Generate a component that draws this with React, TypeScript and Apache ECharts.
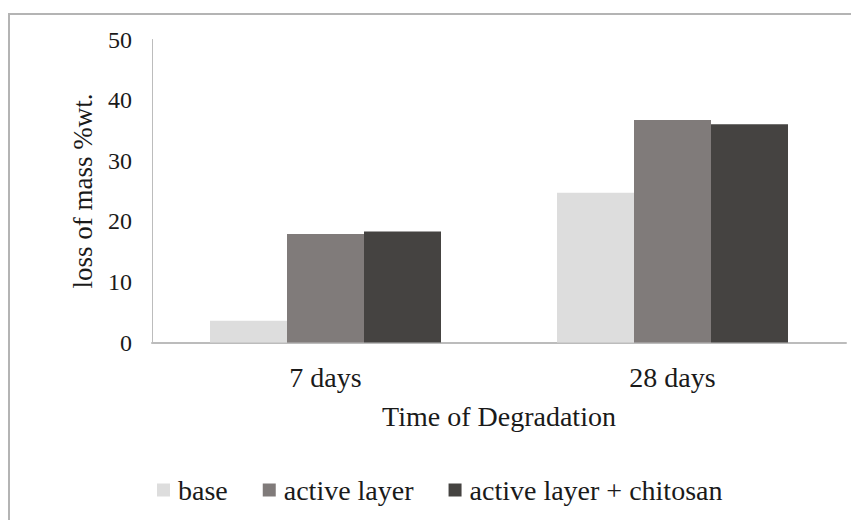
import React, { useEffect, useRef } from "react";
import * as echarts from "echarts";

const categories = ["7 days", "28 days"];
const seriesNames = ["base", "active layer", "active layer + chitosan"];
const baseValues = [3.6, 24.7];
const activeValues = [17.9, 36.7];
const chitosanValues = [18.3, 36.0];
const seriesColors = ["#dddddd", "#807b7a", "#454341"];

const FONT = "Liberation Serif";
const INK = "#1a1a1a";

export default function App() {
  const ref = useRef<HTMLDivElement>(null);

  useEffect(() => {
    if (!ref.current) return;
    const chart = echarts.init(ref.current, undefined, { renderer: "svg" });
    const values = [baseValues, activeValues, chitosanValues];
    chart.setOption({
      animation: false,
      backgroundColor: "#ffffff",
      graphic: [
        {
          type: "polyline",
          shape: { points: [[9, 520], [9, 14], [851, 14]] },
          style: { stroke: "#b4b4b4", lineWidth: 2, fill: null },
          silent: true,
        },
      ],
      grid: { left: 152, right: 5, top: 39.5, bottom: 177.5, containLabel: false },
      legend: {
        left: 152,
        top: 471,
        itemWidth: 13,
        itemHeight: 13,
        itemGap: 35,
        icon: "rect",
        data: seriesNames,
        textStyle: { fontFamily: FONT, fontSize: 28, color: INK, padding: [0, 0, 0, 3] },
      },
      xAxis: {
        type: "category",
        data: categories,
        name: "Time of Degradation",
        nameLocation: "middle",
        nameGap: 60,
        nameTextStyle: { fontFamily: FONT, fontSize: 28, color: INK },
        axisLine: { lineStyle: { color: "#bcbcbc", width: 2 } },
        axisTick: { show: false },
        axisLabel: { fontFamily: FONT, fontSize: 28, color: INK, margin: 21 },
        splitLine: { show: false },
      },
      yAxis: {
        type: "value",
        min: 0,
        max: 50,
        interval: 10,
        name: "loss of mass %wt.",
        nameLocation: "middle",
        nameGap: 56,
        nameRotate: 90,
        nameTextStyle: { fontFamily: FONT, fontSize: 27, color: INK },
        axisLine: { show: true, lineStyle: { color: "#bcbcbc", width: 1 } },
        axisTick: { show: false },
        axisLabel: { fontFamily: FONT, fontSize: 24, color: INK, margin: 20 },
        splitLine: { show: false },
      },
      series: seriesNames.map((name, i) => ({
        name,
        type: "bar",
        data: values[i],
        barWidth: 77,
        barGap: "0%",
        itemStyle: { color: seriesColors[i] },
      })),
    });
    return () => chart.dispose();
  }, []);

  return (
    <div
      ref={ref}
      style={{ position: "fixed", left: 0, top: 0, width: 851, height: 520 }}
    />
  );
}
